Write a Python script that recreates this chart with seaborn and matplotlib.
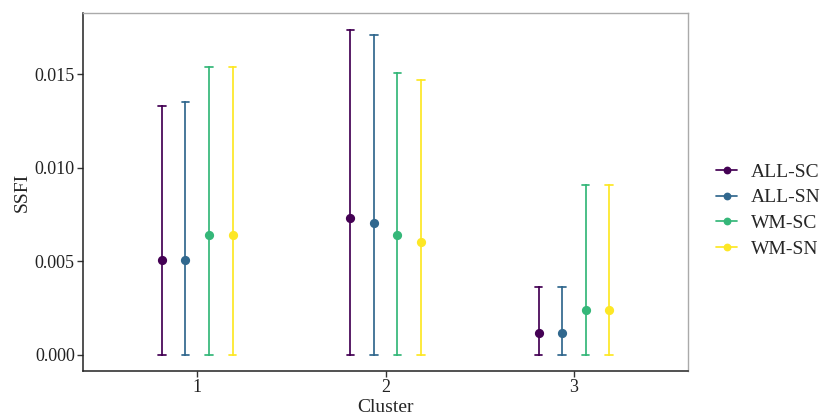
import matplotlib
matplotlib.use("Agg")
import matplotlib.pyplot as plt
import seaborn as sns
import pandas as pd
from matplotlib.lines import Line2D

# Categories
clusters = ["1", "2", "3"]
groups = ["ALL-SC", "ALL-SN", "WM-SC", "WM-SN"]
colors = ["#440154", "#31688E", "#35B779", "#FDE725"]

# Point estimates per group (one value per cluster)
ssfi_all_sc = [0.00509, 0.00729, 0.00116]
ssfi_all_sn = [0.00509, 0.00704, 0.00116]
ssfi_wm_sc = [0.00640, 0.00640, 0.00240]
ssfi_wm_sn = [0.00640, 0.00603, 0.00240]

# Interval bounds per group
lower_all_sc = [0.0, 0.0, 0.0]
lower_all_sn = [0.0, 0.0, 0.0]
lower_wm_sc = [0.0, 0.0, 0.0]
lower_wm_sn = [0.0, 0.0, 0.0]

upper_all_sc = [0.01329, 0.01738, 0.00361]
upper_all_sn = [0.01350, 0.01709, 0.00361]
upper_wm_sc = [0.01539, 0.01508, 0.00907]
upper_wm_sn = [0.01539, 0.01469, 0.00907]

points = [ssfi_all_sc, ssfi_all_sn, ssfi_wm_sc, ssfi_wm_sn]
lowers = [lower_all_sc, lower_all_sn, lower_wm_sc, lower_wm_sn]
uppers = [upper_all_sc, upper_all_sn, upper_wm_sc, upper_wm_sn]

# Long table: lower / estimate / upper rows, so the median is the estimate
# and the 100% percentile interval spans lower..upper
rows = []
for g, pt, lo, up in zip(groups, points, lowers, uppers):
    for i, c in enumerate(clusters):
        for v in (lo[i], pt[i], up[i]):
            rows.append({"Cluster": c, "Group": g, "SSFI": v})
df = pd.DataFrame(rows)

sns.set_theme(style="ticks")
plt.rcParams["font.family"] = ["Liberation Serif", "DejaVu Serif"]

fig = plt.figure(figsize=(8.31, 4.16), dpi=100)
ax = fig.add_axes([0.100, 0.108, 0.728, 0.861])

sns.pointplot(
    data=df, x="Cluster", y="SSFI", hue="Group",
    order=clusters, hue_order=groups, palette=colors,
    estimator="median", errorbar=("pi", 100),
    dodge=0.375, linestyle="none", markers="o", markersize=4.6,
    capsize=0.04, err_kws={"linewidth": 1.25},
    legend=False, ax=ax,
)

ax.set_xlim(-0.606, 2.606)
ax.set_ylim(-0.00087, 0.01827)
ax.set_yticks([0.0, 0.005, 0.010, 0.015])
ax.set_yticklabels(["0.000", "0.005", "0.010", "0.015"])
ax.set_xlabel("Cluster", fontsize=14, labelpad=2)
ax.set_ylabel("SSFI", fontsize=14, labelpad=3)
ax.tick_params(axis="both", labelsize=13, length=4, width=1, color="#333333",
               labelcolor="#222222", pad=2)

for side in ("top", "right"):
    ax.spines[side].set_color("#AAAAAA")
    ax.spines[side].set_linewidth(1.0)
for side in ("left", "bottom"):
    ax.spines[side].set_color("#222222")
    ax.spines[side].set_linewidth(1.1)

handles = [
    Line2D([0], [0], color=c, marker="o", markersize=4.6, linewidth=1.25)
    for c in colors
]
fig.legend(handles, groups, loc="center left", bbox_to_anchor=(0.845, 0.494),
           frameon=False, fontsize=14, handlelength=1.1, handletextpad=0.7,
           labelspacing=0.42, borderpad=0.2)

fig.savefig("out.png", dpi=100)
